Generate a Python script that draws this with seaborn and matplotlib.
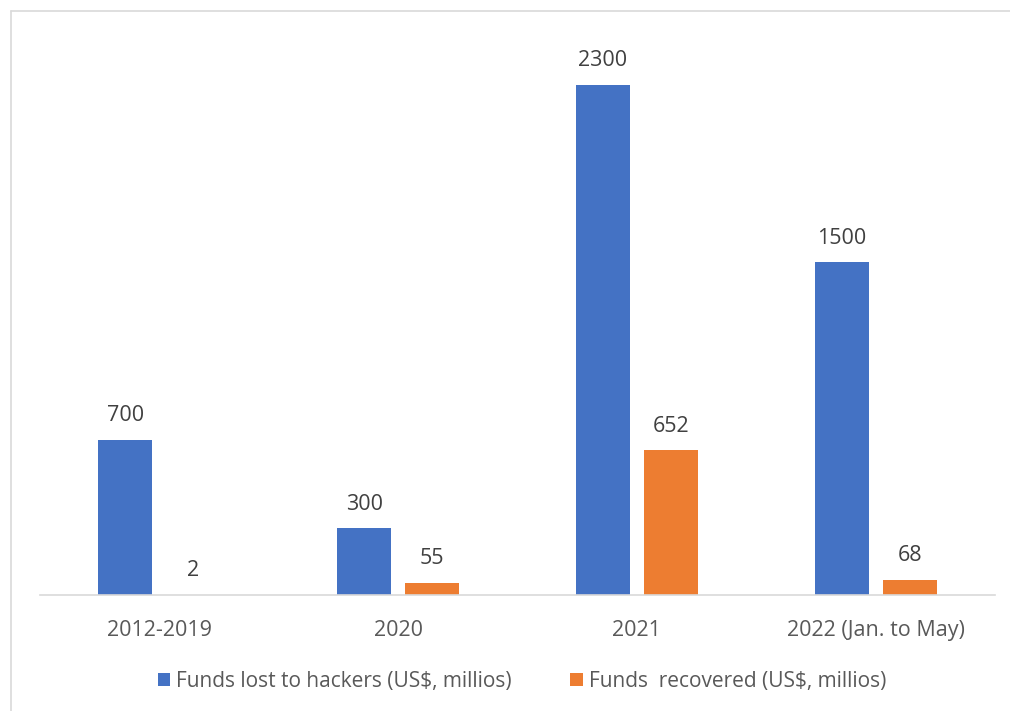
import matplotlib
matplotlib.use("Agg")
import matplotlib.pyplot as plt
import seaborn as sns
import pandas as pd
from matplotlib.patches import Patch
from matplotlib.lines import Line2D

categories = ["2012-2019", "2020", "2021", "2022 (Jan. to May)"]
lost = [700, 300, 2300, 1500]
recovered = [2, 55, 652, 68]
series_names = ["Funds lost to hackers (US$, millios)", "Funds  recovered (US$, millios)"]
colors = ["#4472C4", "#ED7D31"]

df = pd.DataFrame({
    "cat": categories * 2,
    "val": lost + recovered,
    "series": [series_names[0]] * 4 + [series_names[1]] * 4,
})

sns.set_theme(style="white")
plt.rcParams["font.family"] = ["Open Sans", "DejaVu Sans"]

fig = plt.figure(figsize=(10.10, 7.11), dpi=100)
ax = fig.add_axes([40/1010, 1-595/711, 955/1010, (595-30)/711])

sns.barplot(data=df, x="cat", y="val", hue="series", palette=colors,
            width=0.57, gap=0.207, ax=ax, legend=False, saturation=1,
            edgecolor="none", linewidth=0)

ax.set_ylim(0, 2300*(595-30)/510)
ax.set_xlim(-0.5, 3.5)
ax.set_xlabel("")
ax.set_ylabel("")
ax.set_yticks([])
for s in ["top", "right", "left"]:
    ax.spines[s].set_visible(False)
ax.spines["bottom"].set_color("#D9D9D9")
ax.spines["bottom"].set_linewidth(1.2)
ax.tick_params(axis="x", length=0, pad=18, labelsize=15.5, labelcolor="#595959")

for cont in ax.containers:
    ax.bar_label(cont, labels=[f"{v:g}" for v in cont.datavalues], padding=10,
                 fontsize=15.5, color="#404040")

# figure border (top and left visible)
fig.add_artist(Line2D([10.5/1010, 1.0], [1-11/711, 1-11/711], transform=fig.transFigure,
                      color="#D9D9D9", lw=1.2))
fig.add_artist(Line2D([10.5/1010, 10.5/1010], [0, 1-11/711], transform=fig.transFigure,
                      color="#D9D9D9", lw=1.2))

handles = [Patch(facecolor=c, edgecolor="none") for c in colors]
fig.legend(handles, series_names, loc="center", bbox_to_anchor=(522/1010, 1-681/711),
           ncol=2, frameon=False, fontsize=15, labelcolor="#595959",
           handlelength=0.6, handleheight=0.6, handletextpad=0.3, columnspacing=2.8)

fig.savefig("out.png", dpi=100)
